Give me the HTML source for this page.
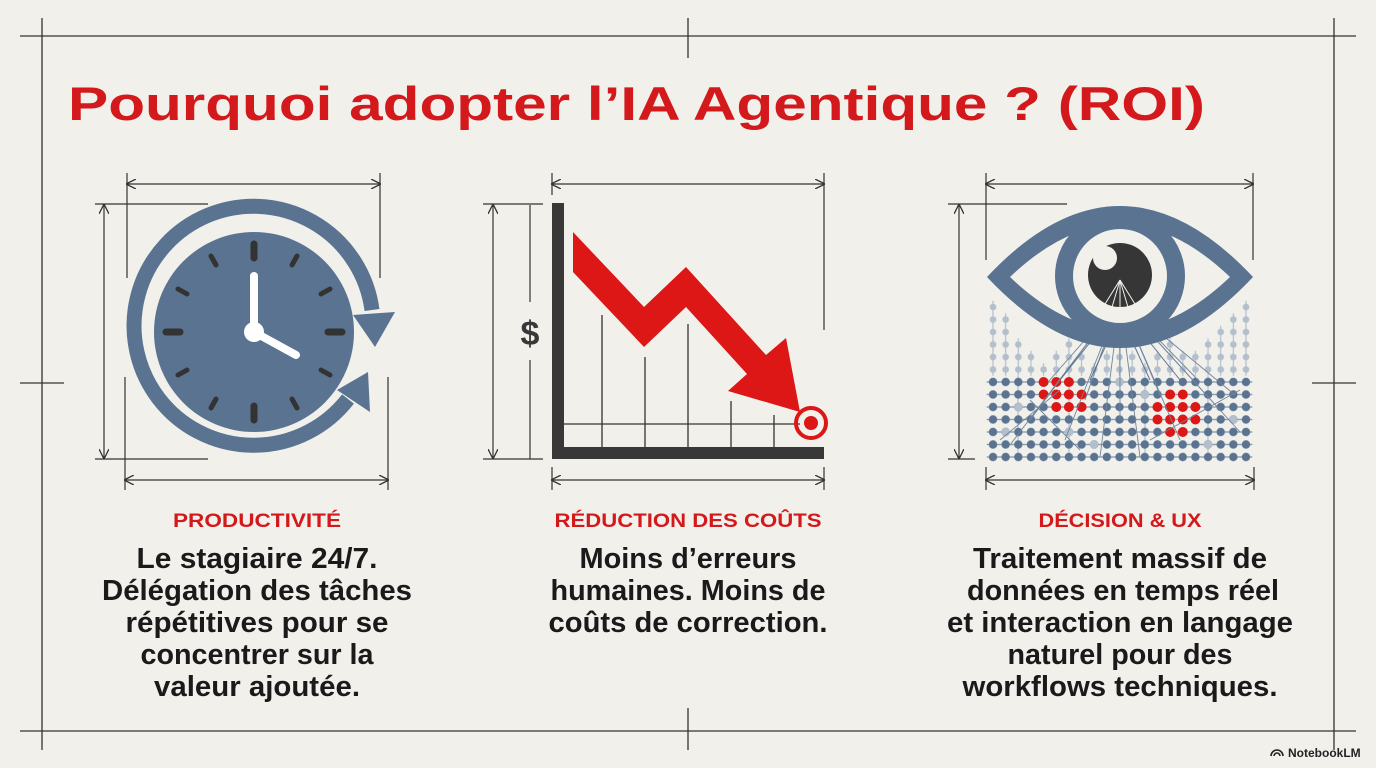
<!DOCTYPE html>
<html><head><meta charset="utf-8"><style>
html,body{margin:0;padding:0;background:#f1f0eb}
svg{display:block}
text{font-family:"Liberation Sans",sans-serif;font-weight:bold}
</style></head><body>
<svg width="1376" height="768" viewBox="0 0 1376 768" xmlns="http://www.w3.org/2000/svg">
<rect width="1376" height="768" fill="#f1f0eb"/>
<defs>
<marker id="ar" viewBox="0 0 10 10" refX="9" refY="5" markerWidth="10" markerHeight="10" markerUnits="userSpaceOnUse" orient="auto-start-reverse"><path d="M0,0 L10,5 L0,10" fill="none" stroke="#333" stroke-width="1.3"/></marker>
<pattern id="pd" patternUnits="userSpaceOnUse" x="986.675" y="375.75" width="12.65" height="12.5">
<line x1="0" y1="6.25" x2="12.65" y2="6.25" stroke="#7b8fa6" stroke-width="1.2"/>
<circle cx="6.325" cy="6.25" r="4.2" fill="#5a7391"/></pattern>
<pattern id="pf" patternUnits="userSpaceOnUse" x="986.675" y="375.75" width="12.65" height="12.5">
<line x1="6.325" y1="0" x2="6.325" y2="12.5" stroke="#b3bfcc" stroke-width="1.2"/>
<circle cx="6.325" cy="6.25" r="3.3" fill="#b3bfcc"/></pattern>
</defs>
<g stroke="#333" stroke-width="1.3" fill="none">
<line x1="20" y1="36" x2="1356" y2="36"/>
<line x1="20" y1="731" x2="1356" y2="731"/>
<line x1="42" y1="18" x2="42" y2="750"/>
<line x1="1334" y1="18" x2="1334" y2="750"/>
<line x1="688" y1="18" x2="688" y2="58"/>
<line x1="688" y1="708" x2="688" y2="750"/>
<line x1="20" y1="383" x2="64" y2="383"/>
<line x1="1312" y1="383" x2="1356" y2="383"/>
</g>
<text x="68" y="120" font-size="47" fill="#d3191b" textLength="1137" lengthAdjust="spacingAndGlyphs">Pourquoi adopter l’IA Agentique ? (ROI)</text>

<g stroke="#333" stroke-width="1.2" fill="none">
<line x1="127" y1="184" x2="380" y2="184" marker-start="url(#ar)" marker-end="url(#ar)"/>
<line x1="127" y1="173" x2="127" y2="278"/><line x1="380" y1="173" x2="380" y2="278"/>
<line x1="125" y1="480" x2="388" y2="480" marker-start="url(#ar)" marker-end="url(#ar)"/>
<line x1="125" y1="377" x2="125" y2="490"/><line x1="388" y1="377" x2="388" y2="490"/>
<line x1="104" y1="205" x2="104" y2="458" marker-start="url(#ar)" marker-end="url(#ar)"/>
<line x1="95" y1="204" x2="208" y2="204"/><line x1="95" y1="459" x2="208" y2="459"/>
<line x1="552" y1="184" x2="824" y2="184" marker-start="url(#ar)" marker-end="url(#ar)"/>
<line x1="552" y1="173" x2="552" y2="195"/><line x1="824" y1="173" x2="824" y2="330"/>
<line x1="552" y1="480" x2="824" y2="480" marker-start="url(#ar)" marker-end="url(#ar)"/>
<line x1="552" y1="467" x2="552" y2="490"/><line x1="824" y1="467" x2="824" y2="490"/>
<line x1="493" y1="205" x2="493" y2="458" marker-start="url(#ar)" marker-end="url(#ar)"/>
<line x1="483" y1="204" x2="543" y2="204"/><line x1="483" y1="459" x2="543" y2="459"/>
<line x1="530" y1="205" x2="530" y2="302"/><line x1="530" y1="360" x2="530" y2="459"/>
<line x1="986" y1="184" x2="1253" y2="184" marker-start="url(#ar)" marker-end="url(#ar)"/>
<line x1="986" y1="173" x2="986" y2="260"/><line x1="1253" y1="173" x2="1253" y2="260"/>
<line x1="986" y1="480" x2="1254" y2="480" marker-start="url(#ar)" marker-end="url(#ar)"/>
<line x1="986" y1="467" x2="986" y2="490"/><line x1="1254" y1="467" x2="1254" y2="490"/>
<line x1="959" y1="205" x2="959" y2="458" marker-start="url(#ar)" marker-end="url(#ar)"/>
<line x1="948" y1="204" x2="1067" y2="204"/><line x1="948" y1="459" x2="975" y2="459"/>
</g>

<g fill="#5a7391">
<path d="M372,310 A119.5,119.5 0 1 0 348,399" fill="none" stroke="#5a7391" stroke-width="15"/>
<polygon points="353,315 395,312 375,347"/>
<polygon points="337,390 368,372 370,412"/>
<circle cx="254" cy="332" r="100"/>
</g>
<g stroke="#333" stroke-linecap="round">
<line x1="254" y1="244" x2="254" y2="258" stroke-width="7"/>
<line x1="254" y1="406" x2="254" y2="420" stroke-width="7"/>
<line x1="166" y1="332" x2="180" y2="332" stroke-width="7"/>
<line x1="328" y1="332" x2="342" y2="332" stroke-width="7"/>
<g stroke-width="5">
<line x1="211" y1="256" x2="216" y2="265"/><line x1="297" y1="256" x2="292" y2="265"/>
<line x1="178" y1="289" x2="187" y2="294"/><line x1="330" y1="289" x2="321" y2="294"/>
<line x1="178" y1="375" x2="187" y2="370"/><line x1="330" y1="375" x2="321" y2="370"/>
<line x1="211" y1="408" x2="216" y2="399"/><line x1="297" y1="408" x2="292" y2="399"/>
</g>
</g>
<g stroke="#fff" stroke-linecap="round" stroke-width="8">
<line x1="254" y1="332" x2="254" y2="276"/>
<line x1="254" y1="332" x2="296" y2="355"/>
</g>
<circle cx="254" cy="332" r="10" fill="#fff"/>

<g stroke="#333" stroke-width="1.3">
<line x1="564" y1="424" x2="800" y2="424"/>
<line x1="602" y1="315" x2="602" y2="447"/>
<line x1="645" y1="357" x2="645" y2="447"/>
<line x1="688" y1="324" x2="688" y2="447"/>
<line x1="731" y1="401" x2="731" y2="447"/>
<line x1="774" y1="415" x2="774" y2="447"/>
</g>
<rect x="552" y="203" width="12" height="256" fill="#383838"/>
<rect x="552" y="447" width="272" height="12" fill="#383838"/>
<polygon points="573,232 644,307 686,267 766,355 786,338 800,412 728,391 747,374 686,307 644,347 573,272" fill="#dd1616"/>
<circle cx="811" cy="423" r="15" fill="none" stroke="#dd1616" stroke-width="4"/>
<circle cx="811" cy="423" r="7" fill="#dd1616"/>
<text x="530" y="345" font-size="34" fill="#383838" text-anchor="middle">$</text>

<g fill="url(#pf)">
<rect x="986.675" y="300.75" width="12.65" height="75"/>
<rect x="999.325" y="313.25" width="12.65" height="62.5"/>
<rect x="1011.975" y="338.25" width="12.65" height="37.5"/>
<rect x="1024.625" y="350.75" width="12.65" height="25"/>
<rect x="1037.275" y="363.25" width="12.65" height="12.5"/>
<rect x="1049.925" y="350.75" width="12.65" height="25"/>
<rect x="1062.575" y="338.25" width="12.65" height="37.5"/>
<rect x="1075.225" y="350.75" width="12.65" height="25"/>
<rect x="1087.875" y="363.25" width="12.65" height="12.5"/>
<rect x="1100.525" y="350.75" width="12.65" height="25"/>
<rect x="1113.175" y="338.25" width="12.65" height="37.5"/>
<rect x="1125.825" y="350.75" width="12.65" height="25"/>
<rect x="1138.475" y="363.25" width="12.65" height="12.5"/>
<rect x="1151.125" y="350.75" width="12.65" height="25"/>
<rect x="1163.775" y="338.25" width="12.65" height="37.5"/>
<rect x="1176.425" y="350.75" width="12.65" height="25"/>
<rect x="1189.075" y="350.75" width="12.65" height="25"/>
<rect x="1201.725" y="338.25" width="12.65" height="37.5"/>
<rect x="1214.375" y="325.75" width="12.65" height="50"/>
<rect x="1227.025" y="313.25" width="12.65" height="62.5"/>
<rect x="1239.675" y="300.75" width="12.65" height="75"/>
</g>
<g stroke="#b3bfcc" stroke-width="1.2">
<line x1="1018" y1="376" x2="1018" y2="457"/><line x1="1069" y1="376" x2="1069" y2="457"/><line x1="1145" y1="376" x2="1145" y2="457"/><line x1="1208" y1="376" x2="1208" y2="457"/>
</g>
<rect x="986.675" y="375.75" width="265.65" height="87.5" fill="url(#pd)"/>
<g fill="#b3bfcc">
<circle cx="1018.3" cy="407" r="4.2"/><circle cx="1068.9" cy="432" r="4.2"/><circle cx="1094.2" cy="444.5" r="4.2"/><circle cx="1144.8" cy="394.5" r="4.2"/><circle cx="1208" cy="444.5" r="4.2"/><circle cx="1233.3" cy="419.5" r="4.2"/><circle cx="1005.6" cy="432" r="4.2"/><circle cx="1119.5" cy="382" r="4.2"/>
</g>
<g fill="#dd1616">
<circle cx="1043.6" cy="382" r="5"/><circle cx="1056.3" cy="382" r="5"/><circle cx="1068.9" cy="382" r="5"/>
<circle cx="1043.6" cy="394.5" r="5"/><circle cx="1056.3" cy="394.5" r="5"/><circle cx="1068.9" cy="394.5" r="5"/><circle cx="1081.6" cy="394.5" r="5"/>
<circle cx="1056.3" cy="407" r="5"/><circle cx="1068.9" cy="407" r="5"/><circle cx="1081.6" cy="407" r="5"/>
<circle cx="1170.1" cy="394.5" r="5"/><circle cx="1182.8" cy="394.5" r="5"/>
<circle cx="1157.5" cy="407" r="5"/><circle cx="1170.1" cy="407" r="5"/><circle cx="1182.8" cy="407" r="5"/><circle cx="1195.4" cy="407" r="5"/>
<circle cx="1157.5" cy="419.5" r="5"/><circle cx="1170.1" cy="419.5" r="5"/><circle cx="1182.8" cy="419.5" r="5"/><circle cx="1195.4" cy="419.5" r="5"/>
<circle cx="1170.1" cy="432" r="5"/><circle cx="1182.8" cy="432" r="5"/>
</g>
<g stroke="#6f849c" stroke-width="0.9">
<line x1="1120" y1="300" x2="1030" y2="420"/><line x1="1120" y1="300" x2="1048" y2="382"/><line x1="1120" y1="300" x2="1065" y2="440"/>
<line x1="1120" y1="300" x2="1085" y2="400"/><line x1="1120" y1="300" x2="1100" y2="457"/><line x1="1120" y1="300" x2="1120" y2="420"/>
<line x1="1120" y1="300" x2="1140" y2="457"/><line x1="1120" y1="300" x2="1160" y2="395"/><line x1="1120" y1="300" x2="1180" y2="440"/>
<line x1="1120" y1="300" x2="1200" y2="382"/><line x1="1120" y1="300" x2="1220" y2="410"/><line x1="1120" y1="300" x2="1240" y2="432"/>
<line x1="1120" y1="300" x2="1010" y2="445"/><line x1="1120" y1="300" x2="1235" y2="395"/>
<line x1="1030" y1="400" x2="1080" y2="450"/><line x1="1150" y1="440" x2="1240" y2="390"/><line x1="1000" y1="440" x2="1060" y2="390"/>
</g>
<path d="M987,277 Q1120,135 1253,277 Q1120,419 987,277 Z M1010,277 Q1120,172 1230,277 Q1120,382 1010,277 Z" fill="#5a7391" fill-rule="evenodd"/>
<circle cx="1120" cy="276" r="56" fill="#f1f0eb" stroke="#5a7391" stroke-width="18"/>
<circle cx="1120" cy="275" r="32" fill="#363636"/>
<circle cx="1105" cy="258" r="12" fill="#f1f0eb"/>
<g stroke="#f1f0eb" stroke-width="1"><line x1="1120" y1="280" x2="1100" y2="312"/><line x1="1120" y1="280" x2="1110" y2="314"/><line x1="1120" y1="280" x2="1120" y2="315"/><line x1="1120" y1="280" x2="1130" y2="314"/><line x1="1120" y1="280" x2="1140" y2="312"/></g>
<g stroke="#5a7391" stroke-width="1"><line x1="1112" y1="332" x2="1090" y2="380"/><line x1="1128" y1="332" x2="1150" y2="380"/><line x1="1100" y1="330" x2="1060" y2="380"/><line x1="1140" y1="330" x2="1180" y2="380"/></g>

<g text-anchor="middle">
<text x="257" y="527" font-size="19" fill="#d3191b" textLength="168" lengthAdjust="spacingAndGlyphs">PRODUCTIVITÉ</text>
<text x="688" y="527" font-size="19" fill="#d3191b" textLength="267" lengthAdjust="spacingAndGlyphs">RÉDUCTION DES COÛTS</text>
<text x="1120" y="527" font-size="19" fill="#d3191b" textLength="163" lengthAdjust="spacingAndGlyphs">DÉCISION &amp; UX</text>
<g font-size="29" fill="#1a1a1a">
<text x="257" y="568" textLength="241" lengthAdjust="spacingAndGlyphs">Le stagiaire 24/7.</text>
<text x="257" y="600" textLength="310" lengthAdjust="spacingAndGlyphs">Délégation des tâches</text>
<text x="257" y="632" textLength="263" lengthAdjust="spacingAndGlyphs">répétitives pour se</text>
<text x="257" y="664" textLength="233" lengthAdjust="spacingAndGlyphs">concentrer sur la</text>
<text x="257" y="696" textLength="206" lengthAdjust="spacingAndGlyphs">valeur ajoutée.</text>
<text x="688" y="568" textLength="217" lengthAdjust="spacingAndGlyphs">Moins d’erreurs</text>
<text x="688" y="600" textLength="275" lengthAdjust="spacingAndGlyphs">humaines. Moins de</text>
<text x="688" y="632" textLength="279" lengthAdjust="spacingAndGlyphs">coûts de correction.</text>
<text x="1120" y="568" textLength="294" lengthAdjust="spacingAndGlyphs">Traitement massif de</text>
<text x="1123" y="600" textLength="312" lengthAdjust="spacingAndGlyphs">données en temps réel</text>
<text x="1120" y="632" textLength="346" lengthAdjust="spacingAndGlyphs">et interaction en langage</text>
<text x="1120" y="664" textLength="225" lengthAdjust="spacingAndGlyphs">naturel pour des</text>
<text x="1120" y="696" textLength="315" lengthAdjust="spacingAndGlyphs">workflows techniques.</text>
</g>
</g>
<text x="1288" y="757" font-size="12" fill="#222">NotebookLM</text>
<path d="M1271,756 a6,6 0 0 1 12,0 M1274,756 a3,3 0 0 1 6,0" fill="none" stroke="#222" stroke-width="1.6"/>
</svg>
</body></html>
